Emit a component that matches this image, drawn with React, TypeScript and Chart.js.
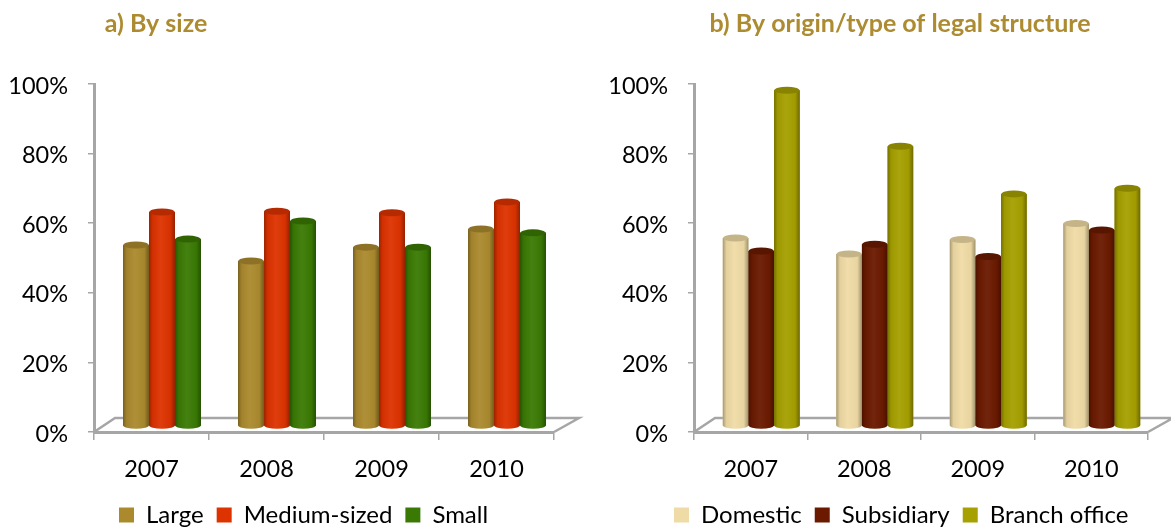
import React, { useEffect, useRef } from "react";
import { Chart, registerables } from "chart.js";

Chart.register(...registerables);

const years = ["2007", "2008", "2009", "2010"];
const large = [52, 47.4, 51.4, 56.6];
const medium = [61.5, 61.7, 61.3, 64.4];
const small = [53.7, 58.9, 51.4, 55.5];
const domestic = [54, 49.4, 53.6, 58.2];
const subsidiary = [50.3, 52.2, 48.7, 56.3];
const branch = [96.5, 80.4, 66.7, 68.3];
const yTicks = [0, 20, 40, 60, 80, 100];

const FONT = "Lato, 'Open Sans', sans-serif";
const GREY = "#a6a6a6";
const TITLE = "#ad8b30";
const CANVAS_H = 560;

function shade(hex: string, f: number) {
  const n = parseInt(hex.slice(1), 16);
  const c = [(n >> 16) & 255, (n >> 8) & 255, n & 255].map((v) =>
    Math.max(0, Math.min(255, Math.round(f > 1 ? v + (255 - v) * (f - 1) : v * f)))
  );
  return `rgb(${c[0]},${c[1]},${c[2]})`;
}

const cylinders = (dx: number, dy: number, depthL: number, depthR: number, titleCenter: number, legendStart: number, legendY: number) => ({
  id: "cylinders",
  afterLayout(chart: any) {
    const t = chart.titleBlock;
    t.left = titleCenter - 250;
    t.right = titleCenter + 250;
    const l = chart.legend;
    const pad = l.options.labels.padding;
    l.left = legendStart - pad;
    l.right = chart.width + 50;
    l.top = legendY - pad - l.options.labels.font.size / 2;
  },
  beforeDatasetsDraw(chart: any) {
    const { ctx, scales } = chart;
    const a = scales.x.left;
    const b = scales.x.right;
    const y0 = scales.y.getPixelForValue(0);
    ctx.save();
    ctx.strokeStyle = GREY;
    ctx.lineWidth = 2.5;
    ctx.beginPath();
    ctx.moveTo(a, y0);
    ctx.lineTo(a + depthL, y0 - 14);
    ctx.lineTo(b + depthR, y0 - 14);
    ctx.lineTo(b, y0);
    ctx.stroke();
    ctx.restore();
    ctx.save();
    ctx.translate(dx, dy);
  },
  afterDatasetsDraw(chart: any) {
    const { ctx } = chart;
    chart.data.datasets.forEach((ds: any, i: number) => {
      const col = ds.backgroundColor as string;
      chart.getDatasetMeta(i).data.forEach((el: any) => {
        const { x, y, base, width } = el.getProps(["x", "y", "base", "width"], true);
        const l = x - width / 2;
        const r = x + width / 2;
        const ry = 3.5;
        const g = ctx.createLinearGradient(l, 0, r, 0);
        g.addColorStop(0, shade(col, 0.7));
        g.addColorStop(0.14, shade(col, 0.95));
        g.addColorStop(0.45, shade(col, 1.05));
        g.addColorStop(0.82, shade(col, 0.97));
        g.addColorStop(1, shade(col, 0.66));
        ctx.fillStyle = g;
        ctx.beginPath();
        ctx.moveTo(l, y);
        ctx.lineTo(l, base);
        ctx.ellipse(x, base, width / 2, ry, 0, Math.PI, 0, true);
        ctx.lineTo(r, y);
        ctx.closePath();
        ctx.fill();
        ctx.fillStyle = shade(col, 0.82);
        ctx.beginPath();
        ctx.ellipse(x, y, width / 2 - 0.3, ry, 0, 0, Math.PI * 2);
        ctx.fill();
      });
    });
    ctx.restore();
  },
});

type PanelProps = {
  left: number;
  width: number;
  rightPad: number;
  title: string;
  titleCenter: number;
  legendStart: number;
  legendGap: number;
  labels: string[];
  colors: string[];
  series: number[][];
  catPct: number;
  depthR: number;
};

function Panel(p: PanelProps) {
  const ref = useRef<HTMLCanvasElement>(null);
  useEffect(() => {
    const chart = new Chart(ref.current as HTMLCanvasElement, {
      type: "bar",
      data: {
        labels: years,
        datasets: p.labels.map((label, i) => ({
          label,
          data: p.series[i],
          backgroundColor: p.colors[i],
          clip: false as any,
        })),
      },
      plugins: [cylinders(10.5, -6, 21, p.depthR, p.titleCenter, p.legendStart, 515) as any],
      options: {
        animation: false,
        responsive: false,
        layout: { padding: { right: p.rightPad, left: 0, top: 0, bottom: 0 } },
        datasets: { bar: { barPercentage: 1, categoryPercentage: p.catPct } },
        plugins: {
          tooltip: { enabled: false },
          title: {
            display: true,
            text: p.title,
            color: TITLE,
            font: { family: FONT, size: 25, weight: "bold" },
            padding: { top: 9, bottom: 45 },
          },
          legend: {
            position: "bottom",
            align: "start",
            labels: {
              boxWidth: 15,
              boxHeight: 15,
              padding: p.legendGap,
              color: "#000",
              font: { family: FONT, size: 24 },
            },
          },
        },
        scales: {
          x: {
            afterFit: (s: any) => {
              s.height = 81;
            },
            border: { color: GREY, width: 3 },
            grid: { drawOnChartArea: false, color: GREY, tickLength: 8, lineWidth: 1.5 },
            ticks: { color: "#000", font: { family: FONT, size: 23.5 }, padding: 15, maxRotation: 0 },
          },
          y: {
            min: 0,
            max: 100,
            afterFit: (s: any) => {
              s.width = 94;
            },
            afterBuildTicks: (s: any) => {
              s.ticks = yTicks.map((value) => ({ value }));
            },
            border: { color: GREY, width: 3 },
            grid: { drawOnChartArea: false, color: GREY, tickLength: 6, lineWidth: 1.5 },
            ticks: {
              color: "#000",
              font: { family: FONT, size: 23.5 },
              padding: 20,
              labelOffset: 2,
              callback: (v: any) => `${v}%`,
            },
          },
        },
      } as any,
    });
    return () => chart.destroy();
  }, []);
  return (
    <canvas
      ref={ref}
      width={p.width}
      height={CANVAS_H}
      style={{ position: "absolute", left: p.left, top: 0, width: p.width, height: CANVAS_H }}
    />
  );
}

export default function App() {
  return (
    <div style={{ position: "fixed", left: 0, top: 0, width: 1171, height: 527, overflow: "hidden", background: "#fff" }}>
      <Panel
        left={0}
        width={590}
        rightPad={36}
        title="a) By size"
        titleCenter={156}
        legendStart={119}
        legendGap={13}
        labels={["Large", "Medium-sized", "Small"]}
        colors={["#ab8a2e", "#dd3300", "#3a7a04"]}
        series={[large, medium, small]}
        catPct={0.678}
        depthR={25}
      />
      <Panel
        left={600}
        width={571}
        rightPad={23}
        title="b) By origin/type of legal structure"
        titleCenter={300}
        legendStart={74}
        legendGap={13}
        labels={["Domestic", "Subsidiary", "Branch office"]}
        colors={["#efdba5", "#6b1a00", "#a6a000"]}
        series={[domestic, subsidiary, branch]}
        catPct={0.678}
        depthR={25}
      />
    </div>
  );
}
